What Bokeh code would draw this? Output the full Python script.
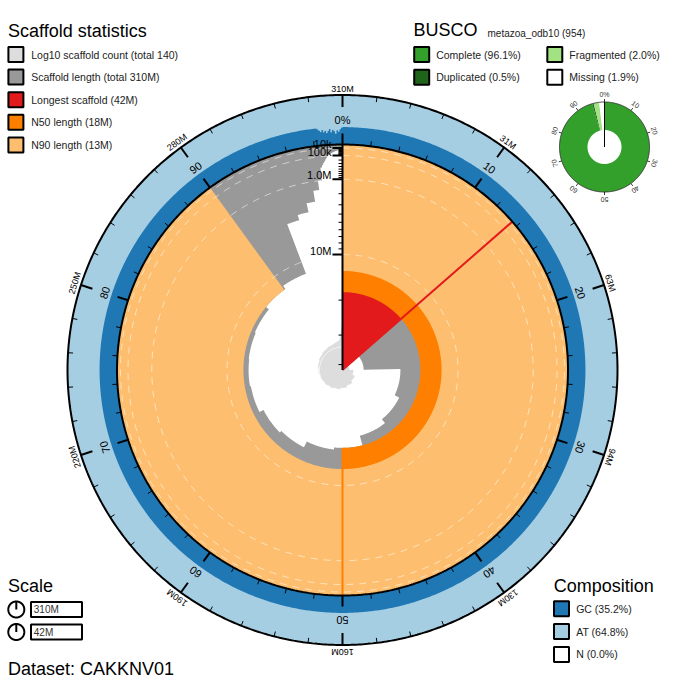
import numpy as np
from bokeh.plotting import figure
from bokeh.embed import file_html
from bokeh.resources import INLINE
from bokeh.core.properties import value

# ---------------- data ----------------
scaffold_lengths_mb = [
    42.0, 34.5, 23.2, 21.8, 20.5, 18.0, 17.5, 16.0, 15.5, 14.5,
    14.3, 14.2, 14.0, 13.2, 12.4, 4.0, 3.4, 2.5, 1.6, 1.0,
    0.40, 0.32, 0.26, 0.22, 0.19, 0.16, 0.14, 0.12, 0.11, 0.10,
    0.090, 0.085, 0.080, 0.078, 0.075, 0.072, 0.070, 0.068, 0.065, 0.062,
    0.060, 0.058, 0.056, 0.054, 0.052, 0.050, 0.049, 0.048, 0.047, 0.046,
    0.045, 0.044, 0.043, 0.042, 0.041, 0.040, 0.039, 0.038, 0.038, 0.037,
    0.036, 0.036, 0.035, 0.035, 0.034, 0.034, 0.033, 0.033, 0.032, 0.032,
    0.031, 0.031, 0.030, 0.030, 0.030, 0.029, 0.029, 0.028, 0.028, 0.028,
    0.027, 0.027, 0.026, 0.026, 0.026, 0.025, 0.025, 0.025, 0.024, 0.024,
    0.024, 0.023, 0.023, 0.023, 0.022, 0.022, 0.022, 0.021, 0.021, 0.021,
    0.020, 0.020, 0.020, 0.019, 0.019, 0.019, 0.018, 0.018, 0.018, 0.017,
    0.017, 0.017, 0.016, 0.016, 0.016, 0.015, 0.015, 0.015, 0.014, 0.014,
    0.014, 0.013, 0.013, 0.013, 0.012, 0.012, 0.012, 0.011, 0.011, 0.011,
    0.010, 0.010, 0.010, 0.009, 0.009, 0.008, 0.008, 0.007, 0.006, 0.005,
]
gc_percent = 35.2
at_percent = 64.8
n_percent = 0.0
# GC % of the last 0.1 % bins of the assembly (small scaffolds)
gc_last_bins = [33, 30, 27, 31, 26, 29, 24, 28, 32, 25, 30, 27, 22, 29, 26, 31, 34]

busco_values = [95.6, 0.5, 2.0, 1.9]   # single complete, duplicated, fragmented, missing
busco_lineage = "metazoa_odb10 (954)"
busco_legend_labels = ["Complete (96.1%)", "Duplicated (0.5%)", "Fragmented (2.0%)", "Missing (1.9%)"]
busco_tick_labels = ["0%", "10", "20", "30", "40", "50", "60", "70", "80", "90"]

outer_tick_labels = ["310M", "31M", "63M", "94M", "130M", "160M", "190M", "220M", "250M", "280M"]
percent_tick_labels = ["0%", "10", "20", "30", "40", "50", "60", "70", "80", "90"]
length_tick_values_mb = [0.01, 0.1, 1.0, 10.0]
length_tick_labels = ["10k", "100k", "1.0M", "10M"]

scaffold_legend_labels = ["Log10 scaffold count (total 140)", "Scaffold length (total 310M)",
                          "Longest scaffold (42M)", "N50 length (18M)", "N90 length (13M)"]
composition_legend_labels = ["GC (35.2%)", "AT (64.8%)", "N (0.0%)"]
scale_labels = ["310M", "42M"]
dataset_label = "Dataset: CAKKNV01"

# ---------------- styles / layout ----------------
C_COUNT, C_LEN, C_LONG, C_N50, C_N90 = "#dddddd", "#999999", "#e31a1c", "#ff7f00", "#fdbf6f"
C_GC, C_AT, C_N = "#1f78b4", "#a6cee3", "#ffffff"
C_BUSCO = ["#33a02c", "#20641c", "#a3e283", "#ffffff"]
FONT = value("Liberation Sans")

W, H = 673, 684


def SY(ys):
    """screen y (from top) -> data y"""
    return H - ys


CX, CY = 342.0, SY(369.5)
R = 225.5
R_OUT = 275.0
K_COUNT = 23.0
BX, BY, BR0, BR1 = 604.0, SY(146.5), 17.0, 45.0

p = figure(width=W, height=H, x_range=(0, W), y_range=(0, H), output_backend="svg",
           toolbar_location=None, min_border=0, x_axis_location=None, y_axis_location=None,
           outline_line_color=None, background_fill_color="white", border_fill_color="white")
p.grid.visible = False


def pol(cx, cy, r, t_deg):
    t = np.radians(t_deg)
    return cx + r * np.sin(t), cy + r * np.cos(t)


def arcpts(cx, cy, r, a0, a1, step=0.5):
    n = max(2, int(abs(a1 - a0) / step) + 2)
    t = np.linspace(a0, a1, n)
    return pol(cx, cy, r, t)


def sector(cx, cy, r0, r1, a0, a1):
    xo, yo = arcpts(cx, cy, r1, a0, a1)
    xi, yi = arcpts(cx, cy, r0, a1, a0)
    return list(np.concatenate([xo, xi])), list(np.concatenate([yo, yi]))


def star(cx, cy, radii, a0s, a1s):
    xs, ys = [], []
    for r, a0, a1 in zip(radii, a0s, a1s):
        x, y = arcpts(cx, cy, r, a0, a1, 0.4)
        xs.extend(x)
        ys.extend(y)
    return xs, ys


def txt(x, y, s, size, align="left", baseline="middle", angle=0.0, color="#000000"):
    p.text(x=[x], y=[y], text=[s], angle=angle, text_align=align, text_baseline=baseline,
           text_font=FONT, text_font_size=size, text_color=color)


L = np.array(scaffold_lengths_mb, dtype=float)
Lmax = L.max()
total = L.sum()
cum = np.cumsum(L)
ends = cum / total * 360.0
starts = np.concatenate([[0.0], ends[:-1]])


def rlen(v):
    return R * (1.0 - np.sqrt(np.asarray(v, dtype=float) / Lmax))


# composition ring
x, y = arcpts(CX, CY, R_OUT, 0, 360)
p.patch(list(x), list(y), fill_color=C_AT, line_color=None)
nb = 1000
gc_bins = np.full(nb, gc_percent)
gc_bins[nb - len(gc_last_bins):] = gc_last_bins
rg = R + (R_OUT - R) * gc_bins / 100.0
bin_a0 = np.arange(nb) * 360.0 / nb
bin_a1 = bin_a0 + 360.0 / nb
x, y = star(CX, CY, rg, bin_a0, bin_a1)
p.patch(x, y, fill_color=C_GC, line_color=None)

# scaffold length: grey disc with white star-shaped interior
x, y = arcpts(CX, CY, R, 0, 360)
p.patch(list(x), list(y), fill_color=C_LEN, line_color=None)
x, y = star(CX, CY, rlen(L), starts, ends)
p.patch(x, y, fill_color="white", line_color=None)

# longest, N50, N90
a_long = ends[0]
i50 = int(np.argmax(cum >= 0.5 * total))
i90 = int(np.argmax(cum >= 0.9 * total))
r50, r90 = float(rlen(L[i50])), float(rlen(L[i90]))
x, y = sector(CX, CY, 0, R, 0, a_long)
p.patch(x, y, fill_color=C_LONG, line_color=None)
x, y = sector(CX, CY, r50, R, 0, 180)
p.patch(x, y, fill_color=C_N50, line_color=None)
x, y = sector(CX, CY, r90, R, 0, 324)
p.patch(x, y, fill_color=C_N90, line_color=None)

# log10 scaffold count
idx = np.arange(1, len(L) + 1)
rc = K_COUNT * np.log10(idx)
x, y = star(CX, CY, rc, starts, ends)
p.patch(x, y, fill_color=C_COUNT, line_color=None)
for d in (1, 2):
    if 10 ** d <= len(L):
        a0 = starts[10 ** d - 1]
        x, y = arcpts(CX, CY, K_COUNT * d, a0, 360)
        p.line(list(x), list(y), line_color="white", line_width=1)

# dashed length grid circles
for v in length_tick_values_mb:
    x, y = arcpts(CX, CY, float(rlen(v)), 0, 360)
    p.line(list(x), list(y), line_color="white", line_alpha=0.55, line_width=1, line_dash="7 6")

# red / orange lines
x, y = pol(CX, CY, np.array([0, R]), a_long)
p.line(list(x), list(y), line_color=C_LONG, line_width=2)
x, y = pol(CX, CY, np.array([r50, R]), 180)
p.line(list(x), list(y), line_color=C_N50, line_width=2)

# circles
for rr in (R, R_OUT):
    x, y = arcpts(CX, CY, rr, 0, 360)
    p.line(list(x), list(y), line_color="black", line_width=2)

# ring ticks
mx, my, Mx, My = [], [], [], []
for k in range(50):
    a = k * 7.2
    if k % 5 == 0:
        x, y = pol(CX, CY, np.array([R_OUT, R_OUT - 12]), a); Mx.append(list(x)); My.append(list(y))
        x, y = pol(CX, CY, np.array([R, R + 11]), a); Mx.append(list(x)); My.append(list(y))
    else:
        x, y = pol(CX, CY, np.array([R_OUT, R_OUT - 5]), a); mx.append(list(x)); my.append(list(y))
        x, y = pol(CX, CY, np.array([R, R + 5]), a); mx.append(list(x)); my.append(list(y))
p.multi_line(mx, my, line_color="black", line_width=1)
p.multi_line(Mx, My, line_color="black", line_width=2)

for k in range(10):
    a = k * 36.0
    x, y = pol(CX, CY, R_OUT + 6.5, a)
    txt(float(x), float(y), outer_tick_labels[k], "9px", "center", "middle", -np.radians(a))
    x, y = pol(CX, CY, 250.0, a)
    txt(float(x), float(y), percent_tick_labels[k], "11px", "center", "middle", -np.radians(a))

# radial length axis
p.line([CX, CX], [CY, CY + R], line_color="black", line_width=2)
tx, ty = [], []
for base in length_tick_values_mb:
    for m in range(2, 10):
        v = base * m
        if v <= Lmax:
            rr = float(rlen(v))
            tx.append([CX - 4, CX]); ty.append([CY + rr, CY + rr])
p.multi_line(tx, ty, line_color="black", line_width=1)
for v, lab in zip(length_tick_values_mb, length_tick_labels):
    rr = float(rlen(v))
    p.line([CX - 10, CX], [CY + rr, CY + rr], line_color="black", line_width=2)
    txt(CX - 11, CY + rr + 4.0, lab, "11px", "right", "middle")

# BUSCO donut
bc = np.cumsum(busco_values) / np.sum(busco_values) * 360.0
bs = np.concatenate([[0.0], bc[:-1]])
for a0, a1, col in zip(bs, bc, C_BUSCO):
    x, y = sector(BX, BY, BR0, BR1, a0, a1)
    p.patch(x, y, fill_color=col, line_color=None)
x, y = arcpts(BX, BY, BR1, 0, 360)
p.line(list(x), list(y), line_color="#333333", line_width=1)
p.line([BX, BX], [BY, BY + BR1], line_color="black", line_width=1)
bx, by = [], []
for k in range(10):
    a = k * 36.0
    x, y = pol(BX, BY, np.array([BR1, BR1 + 3]), a)
    bx.append(list(x)); by.append(list(y))
    x, y = pol(BX, BY, BR1 + 7.5, a)
    txt(float(x), float(y), busco_tick_labels[k], "7px", "center", "middle", -np.radians(a), "#333333")
p.multi_line(bx, by, line_color="#333333", line_width=1)

# ---------------- legends (positions in screen pixels) ----------------
txt(7.5, SY(30.0), "Scaffold statistics", "18px")
leg_cols = [C_COUNT, C_LEN, C_LONG, C_N50, C_N90]
for i, (lab, col) in enumerate(zip(scaffold_legend_labels, leg_cols)):
    yy = SY(54.0 + i * 22.6)
    p.rect([15.4], [yy], width=15, height=15, fill_color=col, line_color="black", line_width=2)
    txt(30.7, yy, lab, "10.5px", color="#222222")

txt(413.0, SY(29.7), "BUSCO", "18px")
txt(487.0, SY(33.0), busco_lineage, "10px", color="#222222")
bpos = [(421.2, 54.0), (421.2, 76.7), (554.3, 54.0), (554.3, 76.7)]
for (xx, ys), lab, col in zip(bpos, busco_legend_labels, C_BUSCO):
    yy = SY(ys)
    p.rect([xx], [yy], width=15, height=15, fill_color=col, line_color="black", line_width=2)
    txt(xx + 14.5, yy, lab, "10.5px", color="#222222")

txt(7.5, SY(585.0), "Scale", "18px")
for i, lab in enumerate(scale_labels):
    yy = SY(609.0 + i * 22.5)
    x, y = arcpts(15.8, yy, 8.0, 0, 360)
    p.line(list(x), list(y), line_color="black", line_width=2)
    p.line([15.8, 15.8], [yy, yy + 8.0], line_color="black", line_width=2)
    p.rect([56.0], [yy], width=51, height=15, fill_color="white", line_color="black", line_width=2)
    txt(33.3, yy, lab, "10px", color="#333333")

txt(7.5, SY(668.3), dataset_label, "18px")

txt(553.3, SY(585.0), "Composition", "18px")
comp_cols = [C_GC, C_AT, C_N]
for i, (lab, col) in enumerate(zip(composition_legend_labels, comp_cols)):
    yy = SY(608.3 + i * 22.8)
    p.rect([561.0], [yy], width=15, height=15, fill_color=col, line_color="black", line_width=2)
    txt(575.7, yy, lab, "10.5px", color="#222222")

open("out.html", "w").write(file_html(p, INLINE))
